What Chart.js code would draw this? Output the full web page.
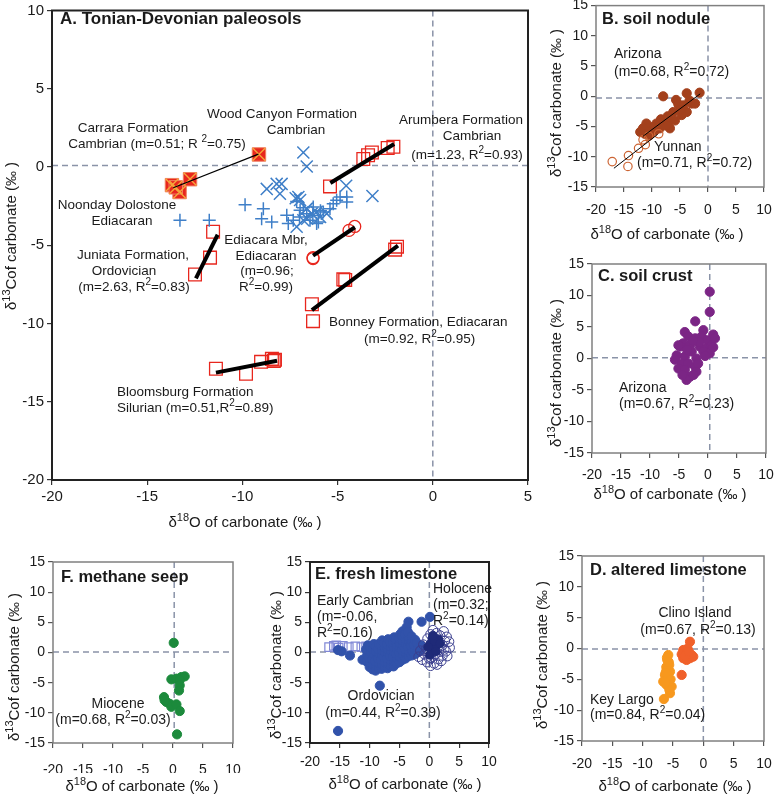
<!DOCTYPE html>
<html>
<head>
<meta charset="utf-8">
<script src="https://cdn.jsdelivr.net/npm/chart.js@4/dist/chart.umd.min.js"></script>
<style>
  html, body { margin: 0; padding: 0; background: #fff; }
  #wrap { position: relative; width: 774px; height: 798px; }
  #wrap canvas { position: absolute; left: 0; top: 0; }
</style>
</head>
<body>
<div id="wrap">
  <canvas id="pA" width="774" height="798"></canvas>
  <canvas id="pB" width="774" height="798"></canvas>
  <canvas id="pC" width="774" height="798"></canvas>
  <canvas id="pD" width="774" height="798"></canvas>
  <canvas id="pE" width="774" height="798"></canvas>
  <canvas id="pF" width="774" height="798"></canvas>
</div>
<script>
// ---- data: [d18O, d13C] ----
// A. Tonian-Devonian paleosols
const carrara = [[-13.7,-1.16],[-13.3,-1.6],[-12.75,-0.78],[-13.5,-1.3],[-9.13,0.8]];
const carraraFit = [[-13.63,-1.33],[-9.16,0.82]];
const woodCanyon = [[-6.8,0.93],[-6.62,0.03],[-8.72,-1.4],[-8.2,-1.08],[-7.94,-1.08],[-8.03,-1.71],[-7.06,-1.92],
  [-4.55,-1.2],[-3.17,-1.85],[-7.15,-3.82],[-6.97,-2.11],[-6.62,-2.66],[-6.36,-2.98],[-6.1,-2.87],[-5.57,-2.98],
  [-6.8,-3.4],[-6.6,-3.3],[-5.92,-3.19],[-7.2,-2.0]];
const noonday = [[-13.28,-3.4],[-11.74,-3.4],[-9.86,-2.42],[-8.9,-2.66],[-8.99,-3.3],[-8.46,-3.51],[-7.67,-3.08],
  [-7.33,-3.4],[-7.59,-3.61],[-6.97,-2.77],[-6.62,-2.98],[-6.28,-2.55],[-6.01,-3.51],[-5.23,-2.35],[-5.05,-2.13],
  [-4.87,-1.92],[-4.52,-1.92],[-4.52,-2.24],[-5.4,-2.66],[-5.75,-2.87],[-6.1,-3.61],[-6.45,-3.4],[-7.15,-2.2],
  [-6.8,-2.6],[-6.3,-3.1],[-5.9,-2.8],[-7.0,-3.2]];
const arumbera = [[-5.4,-1.24],[-3.65,0.51],[-3.4,0.75],[-3.2,0.93],[-2.37,1.21],[-2.07,1.29]];
const arumberaFit = [[-5.38,-1.02],[-2.03,1.47]];
const juniata = [[-11.54,-4.14],[-11.7,-5.79],[-12.49,-6.87]];
const juniataFit = [[-12.44,-7.12],[-11.3,-4.33]];
const ediacara = [[-6.29,-5.79],[-6.29,-5.85],[-4.4,-4.05],[-4.1,-3.8]];
const ediacaraFit = [[-6.29,-5.66],[-4.09,-3.85]];
const bonney = [[-1.88,-5.09],[-1.98,-5.28],[-4.7,-7.18],[-4.6,-7.22],[-6.35,-8.77],[-6.29,-9.85]];
const bonneyFit = [[-6.35,-9.15],[-1.83,-5.03]];
const bloomsburg = [[-11.39,-12.89],[-9.81,-13.21],[-9.02,-12.45],[-8.45,-12.26],[-8.29,-12.32],[-8.35,-12.4]];
const bloomsburgFit = [[-11.39,-13.14],[-8.18,-12.38]];

// B. soil nodule
const nodArizona = [[-1.5,0.6],[-3.8,0.5],[-8.0,0.0],[-5.7,-0.6],[-5.3,-1.3],[-3.3,-0.7],[-2.9,-1.2],[-2.3,-1.2],
  [-4.4,-1.5],[-3.8,-2.6],[-4.7,-3.1],[-6.2,-2.6],[-6.9,-4.0],[-8.0,-4.2],[-9.2,-4.5],[-5.9,-4.0],[-9.9,-5.1],
  [-9.4,-5.6],[-11.0,-4.5],[-11.6,-5.3],[-8.6,-5.3],[-6.8,-5.3],[-10.4,-6.4],[-11.3,-6.2],[-12.1,-5.9],[-7.5,-4.8],
  [-8.4,-3.8],[-10.2,-5.8],[-4.9,-2.2],[-7.2,-3.3]];
const nodYunnan = [[-17.1,-10.8],[-14.2,-9.8],[-14.3,-11.6],[-12.4,-8.6],[-11.2,-8.0],[-11.6,-7.2],[-8.8,-6.2],[-10.6,-6.6]];
const nodArizonaFit = [[-11.6,-6.6],[-1.4,0.4]];
const nodYunnanFit = [[-16.8,-11.9],[-9.0,-6.3]];

// C. soil crust
const crust = [[0.3,10.6],[0.3,7.4],[-2.2,5.9],[-0.8,4.5],[0.9,3.8],[-4.0,4.2],[-3.4,3.5],[-1.1,3.5],[-2.2,3.2],
  [-0.1,2.9],[-4.3,2.4],[-3.1,2.1],[-1.4,1.9],[-0.2,1.6],[-4.8,1.9],[-2.8,1.1],[-0.8,1.1],[-5.4,0.5],[-4.0,0.3],
  [0.3,0.8],[-5.7,-0.2],[-4.5,-0.8],[-3.4,-0.8],[-2.0,0.0],[-2.2,-1.3],[-5.1,-1.6],[-4.0,-1.8],[-1.7,-0.8],
  [-2.0,-2.1],[-3.1,-2.9],[-3.7,-3.4],[-2.5,-2.6],[-4.4,-2.6],[0.6,2.1],[-5.1,2.1],[1.2,3.2],[0.9,1.8],[-1.5,2.6],
  [-3.6,1.4],[-2.6,2.8],[-0.5,0.4]];

// D. altered limestone
const keyLargo = [[-5.78,-1.05],[-5.94,-1.86],[-5.62,-2.67],[-6.05,-3.48],[-5.5,-3.75],[-6.33,-4.29],[-5.78,-4.82],
  [-6.61,-5.37],[-6.05,-5.9],[-5.22,-6.18],[-5.5,-7.25],[-6.5,-8.2],[-6.1,-3.0],[-5.4,-5.0],[-6.0,-1.5],[-5.6,-6.7],
  [-5.9,-4.6],[-6.3,-5.6],[-5.7,-2.2],[-6.2,-3.9]];
const clino = [[-2.2,1.1],[-3.31,-0.24],[-3.57,-0.94],[-2.76,-0.77],[-1.93,-1.05],[-3.31,-1.58],[-2.21,-1.58],
  [-1.66,-1.32],[-2.76,-1.86],[-3.57,-4.29],[-2.6,0.0],[-3.0,-1.2],[-2.4,-0.5]];

// E. fresh limestone
const earlyCambrian = [[-16.8,0.9],[-16.0,1.1],[-15.2,0.8],[-14.5,1.1],[-13.5,0.9],[-12.4,1.0],[-11.4,0.9],
  [-10.6,1.0],[-15.6,1.2]];
const ordovician = [[-15.3,0.4],[-14.7,0.2],[-13.3,-0.5],[-11.2,-1.2],[-8.3,-5.5],[-15.3,-13.0],[-3.5,5.1],
  [-1.3,5.1],[0.1,5.9],[-4.5,3.5],[-3.8,4.2],
  [-10.5,-1.5],[-10.4,-0.4],[-10.6,0.5],[-10.3,1.2],[-10.0,-2.4],[-9.9,-1.7],[-10.1,-0.9],[-9.8,0.1],[-9.9,0.9],
  [-9.5,-2.8],[-9.4,-2.0],[-9.6,-1.1],[-9.3,-0.3],[-9.5,0.6],[-9.3,1.4],[-9.0,-3.0],[-8.9,-2.2],[-9.1,-1.4],
  [-8.8,-0.6],[-9.0,0.2],[-8.9,1.0],[-8.5,-2.6],[-8.4,-1.8],[-8.6,-1.0],[-8.4,-0.2],[-8.6,0.6],[-8.5,1.4],
  [-8.0,-2.7],[-7.9,-2.0],[-8.1,-1.2],[-7.9,-0.4],[-8.0,0.4],[-8.1,1.2],[-7.9,2.0],[-7.5,-2.4],[-7.4,-1.6],
  [-7.6,-0.8],[-7.4,0.0],[-7.5,0.8],[-7.6,1.6],[-7.0,-2.6],[-6.9,-1.8],[-7.1,-1.0],[-6.9,-0.2],[-7.0,0.6],
  [-7.1,1.4],[-6.9,2.2],[-6.5,-2.2],[-6.4,-1.4],[-6.6,-0.6],[-6.4,0.2],[-6.5,1.0],[-6.6,1.8],[-6.0,-2.3],
  [-5.9,-1.5],[-6.1,-0.7],[-5.9,0.1],[-6.0,0.9],[-6.1,1.7],[-5.9,2.5],[-5.5,-1.8],[-5.4,-1.0],[-5.6,-0.2],
  [-5.4,0.6],[-5.5,1.4],[-5.6,2.2],[-5.0,-1.6],[-4.9,-0.8],[-5.1,0.0],[-4.9,0.8],[-5.0,1.6],[-5.1,2.4],[-4.9,3.0],
  [-4.5,-1.2],[-4.4,-0.4],[-4.6,0.4],[-4.4,1.2],[-4.5,2.0],[-4.6,2.8],[-4.0,-1.0],[-3.9,-0.2],[-4.1,0.6],
  [-3.9,1.4],[-4.0,2.2],[-4.1,3.0],[-3.5,-0.6],[-3.4,0.2],[-3.6,1.0],[-3.4,1.8],[-3.5,2.6],[-3.6,3.4],[-3.0,-0.5],
  [-2.9,0.3],[-3.1,1.1],[-2.9,1.9],[-3.0,2.7],[-2.5,-0.3],[-2.4,0.5],[-2.6,1.3],[-2.4,2.1],[-2.0,0.0],[-1.9,0.8],
  [-2.1,1.6],[-1.5,0.4],[-1.4,1.2]];
const holoceneOpen = [[-1.8,-0.7],[-1.2,-1.2],[-0.8,-0.3],[-0.5,0.6],[-1.0,1.3],[-0.3,2.3],[0.2,3.0],[0.6,3.7],
  [1.2,3.2],[1.8,2.8],[2.4,3.5],[2.9,2.6],[3.3,1.8],[3.4,0.8],[2.8,0.2],[2.2,-0.5],[1.5,-1.1],[0.8,-1.8],
  [0.2,-2.2],[-0.4,-1.6],[0.3,-0.9],[1.0,-0.3],[1.6,0.4],[2.2,1.2],[2.6,1.9],[0.5,1.0],[1.1,1.7],[-0.2,0.1],
  [0.9,2.4],[2.0,-1.4],[-1.5,0.3],[3.0,-0.6],[1.3,-2.0],[0.0,-1.0],[2.5,0.5]];
const holoceneFilled = [[0.2,1.5],[0.5,2.3],[0.8,0.6],[1.2,1.2],[0.4,0.2],[1.5,2.2],[-0.2,0.9],[0.9,1.9],
  [1.8,1.5],[0.1,-0.4],[1.1,0.2],[0.6,2.8]];

// F. methane seep
const miocene = [[0.12,1.6],[-0.27,-4.45],[0.57,-4.34],[1.4,-4.07],[1.95,-3.96],[1.12,-4.6],[1.12,-5.45],
  [1.0,-6.3],[-1.5,-7.4],[-1.1,-8.2],[-0.55,-8.5],[-0.27,-9.0],[0.57,-8.6],[1.12,-9.7],[0.67,-13.57],[-1.4,-7.9]];

// ---- drawing helpers ----
const FONT = '"Liberation Sans", Arial, Helvetica, sans-serif';
const toXY = arr => arr.map(p => ({ x: p[0], y: p[1] }));

// text with ^superscript^ parts
function richText(ctx, str, x, y, size, o) {
  const b = o.bold ? 'bold ' : '';
  const parts = str.split('^');
  const sup = Math.round(size * 0.72);
  let w = 0;
  parts.forEach((p, i) => { ctx.font = b + (i % 2 ? sup : size) + 'px ' + FONT; w += ctx.measureText(p).width; });
  let cx = o.align === 'center' ? -w / 2 : (o.align === 'right' ? -w : 0);
  ctx.save();
  ctx.translate(x, y);
  if (o.rotate) ctx.rotate(o.rotate);
  ctx.fillStyle = o.color || '#1a1a1a';
  ctx.textBaseline = 'middle';
  ctx.textAlign = 'left';
  parts.forEach((p, i) => {
    ctx.font = b + (i % 2 ? sup : size) + 'px ' + FONT;
    ctx.fillText(p, cx, i % 2 ? -size * 0.36 : 0);
    cx += ctx.measureText(p).width;
  });
  ctx.restore();
}

const deco = {}; // per canvas: frame, zero lines, texts

const decoPlugin = {
  id: 'deco',
  beforeDatasetsDraw(chart) {
    const d = deco[chart.canvas.id];
    const { ctx, chartArea: a, scales } = chart;
    const px = scales.x.getPixelForValue(d.zeroX);
    const py = scales.y.getPixelForValue(d.zeroY);
    ctx.save();
    ctx.strokeStyle = '#8a93a8';
    ctx.lineWidth = 1.5;
    ctx.setLineDash([6, 4]);
    ctx.beginPath();
    ctx.moveTo(px, a.top); ctx.lineTo(px, a.bottom);
    ctx.moveTo(a.left, py); ctx.lineTo(a.right, py);
    ctx.stroke();
    ctx.restore();
  },
  afterDraw(chart) {
    const d = deco[chart.canvas.id];
    const { ctx, chartArea: a } = chart;
    ctx.save();
    ctx.strokeStyle = d.frameColor;
    ctx.lineWidth = d.frameWidth;
    ctx.strokeRect(a.left, a.top, a.right - a.left, a.bottom - a.top);
    ctx.restore();
    d.texts.forEach(t => richText(ctx, t[0], t[1], t[2], t[4] || 14, { align: t[3], bold: t[5], rotate: t[6] }));
  }
};
Chart.register(decoPlugin);

function axis(min, max, isX, pad, size, tickColor) {
  return {
    type: 'linear', min: min, max: max,
    ticks: { stepSize: 5, padding: pad, color: '#1a1a1a', font: { family: FONT, size: size } },
    grid: { drawOnChartArea: false, drawTicks: true, tickLength: 5, color: tickColor, lineWidth: 1.2 },
    border: { display: false },
    afterFit(s) {
      if (isX) { s.height = 30; s.paddingLeft = 0; s.paddingRight = 0; }
      else { s.width = 40; s.paddingTop = 0; s.paddingBottom = 0; }
    }
  };
}

function panel(id, box, xr, yr, datasets, tickSize, xPad, tickColor) {
  return new Chart(document.getElementById(id), {
    type: 'scatter',
    data: { datasets: datasets },
    options: {
      responsive: false,
      animation: false,
      events: [],
      layout: { padding: { left: box[0] - 40, top: box[2], right: 774 - box[1], bottom: 798 - box[3] - 30 } },
      plugins: { legend: { display: false }, tooltip: { enabled: false } },
      scales: {
        x: axis(xr[0], xr[1], true, xPad, tickSize, tickColor),
        y: axis(yr[0], yr[1], false, 3, tickSize, tickColor)
      }
    }
  });
}

function fit(data, width) {
  return { data: toXY(data), showLine: true, borderColor: '#000', borderWidth: width, pointRadius: 0 };
}
function marks(data, style, r, fill, stroke, bw) {
  return { data: toXY(data), pointStyle: style, pointRadius: r, backgroundColor: fill,
    borderColor: stroke, borderWidth: bw, showLine: false };
}

const RED = '#e8261d', BLUE = '#3f7fc8', CLEAR = 'rgba(255,255,255,0)';
const UP = -Math.PI / 2;
const XT = 'δ^18^O of carbonate (‰ )', YT = 'δ^13^Cof carbonate (‰ )';

// ---- A ----
deco.pA = { zeroX: 0, zeroY: 0.1, frameColor: '#222', frameWidth: 2, texts: [
  ['A. Tonian-Devonian paleosols', 60, 19, 'left', 17, true],
  ['Carrara Formation', 133, 128, 'center', 13.5],
  ['Cambrian (m=0.51; R ^2^=0.75)', 157, 144, 'center', 13.5],
  ['Wood Canyon Formation', 282, 114, 'center', 13.5],
  ['Cambrian', 296, 130, 'center', 13.5],
  ['Arumbera Formation', 461, 120, 'center', 13.5],
  ['Cambrian', 472, 136, 'center', 13.5],
  ['(m=1.23, R^2^=0.93)', 467, 155, 'center', 13.5],
  ['Noonday Dolostone', 117, 205, 'center', 13.5],
  ['Ediacaran', 122, 221, 'center', 13.5],
  ['Juniata Formation,', 133, 255, 'center', 13.5],
  ['Ordovician', 124, 271, 'center', 13.5],
  ['(m=2.63, R^2^=0.83)', 134, 287, 'center', 13.5],
  ['Ediacara Mbr,', 266, 240, 'center', 13.5],
  ['Ediacaran', 266, 256, 'center', 13.5],
  ['(m=0.96;', 267, 271, 'center', 13.5],
  ['R^2^=0.99)', 266, 287, 'center', 13.5],
  ['Bonney Formation, Ediacaran', 329, 322, 'left', 13.5],
  ['(m=0.92, R^2^=0.95)', 364, 339, 'left', 13.5],
  ['Bloomsburg Formation', 117, 392, 'left', 13.5],
  ['Silurian (m=0.51,R^2^=0.89)', 117, 408, 'left', 13.5],
  [XT, 245, 523, 'center', 15],
  [YT, 12, 236, 'center', 15, false, UP]
]};
panel('pA', [52, 528, 7, 480], [-20, 5], [-20, 10], [
  fit(carraraFit, 1.2), fit(arumberaFit, 4), fit(juniataFit, 4), fit(ediacaraFit, 4),
  fit(bonneyFit, 4), fit(bloomsburgFit, 4),
  marks(carrara, 'crossRot', 9, CLEAR, '#f5a63a', 1.4),
  marks(carrara, 'rect', 9.5, RED, '#f08060', 1),
  marks(woodCanyon, 'crossRot', 8.5, CLEAR, BLUE, 1.5),
  marks(noonday, 'cross', 6.5, CLEAR, BLUE, 1.5),
  marks(arumbera, 'rect', 9, CLEAR, RED, 1.3),
  marks(juniata, 'rect', 9, CLEAR, RED, 1.3),
  marks(ediacara, 'circle', 6, CLEAR, RED, 1.3),
  marks(bonney, 'rect', 9, CLEAR, RED, 1.3),
  marks(bloomsburg, 'rect', 9, CLEAR, RED, 1.3)
], 15, 3, '#333');

// ---- B ----
deco.pB = { zeroX: 0, zeroY: -0.3, frameColor: '#808080', frameWidth: 1.5, texts: [
  ['B. soil nodule', 602, 19, 'left', 16.5, true],
  ['Arizona', 614, 54, 'left'],
  ['(m=0.68, R^2^=0.72)', 614, 72, 'left'],
  ['Yunnan', 654, 147, 'left'],
  ['(m=0.71, R^2^=0.72)', 637, 163, 'left'],
  [XT, 667, 235, 'center', 15],
  [YT, 557, 103, 'center', 15, false, UP]
]};
panel('pB', [596, 764, 5, 187], [-20, 10], [-15, 15], [
  fit(nodArizonaFit, 1), fit(nodYunnanFit, 1),
  marks(nodYunnan, 'circle', 4.2, CLEAR, '#cc6433', 1.2),
  marks(nodArizona, 'circle', 4.6, '#a3401c', '#a3401c', 1)
], 14, 10, '#555');

// ---- C ----
deco.pC = { zeroX: 0.3, zeroY: 0.1, frameColor: '#808080', frameWidth: 1.5, texts: [
  ['C. soil crust', 598, 276, 'left', 16.5, true],
  ['Arizona', 619, 388, 'left'],
  ['(m=0.67, R^2^=0.23)', 619, 404, 'left'],
  [XT, 670, 495, 'center', 15],
  [YT, 557, 373, 'center', 15, false, UP]
]};
panel('pC', [592, 766, 264, 453], [-20, 10], [-15, 15], [
  marks(crust, 'circle', 4.6, '#7b2585', '#7b2585', 1)
], 14, 9, '#555');

// ---- D ----
deco.pD = { zeroX: 0, zeroY: -0.1, frameColor: '#808080', frameWidth: 1.5, texts: [
  ['D. altered limestone', 590, 570, 'left', 16.5, true],
  ['Clino Island', 695, 613, 'center'],
  ['(m=0.67, R^2^=0.13)', 698, 630, 'center'],
  ['Key Largo', 590, 700, 'left'],
  ['(m=0.84, R^2^=0.04)', 590, 715, 'left'],
  [XT, 675, 787, 'center', 15],
  [YT, 543, 655, 'center', 15, false, UP]
]};
panel('pD', [582, 764, 556, 741], [-20, 10], [-15, 15], [
  marks(clino, 'circle', 4.6, '#f0602a', '#f0602a', 1),
  marks(keyLargo, 'circle', 4.6, '#f7981e', '#f7981e', 1)
], 14, 10, '#555');

// ---- E ----
deco.pE = { zeroX: 0, zeroY: 0.1, frameColor: '#222', frameWidth: 2, texts: [
  ['E. fresh limestone', 315, 574, 'left', 16.5, true],
  ['Early Cambrian', 317, 601, 'left'],
  ['(m=-0.06,', 317, 617, 'left'],
  ['R^2^=0.16)', 317, 633, 'left'],
  ['Holocene', 433, 589, 'left'],
  ['(m=0.32;', 433, 605, 'left'],
  ['R^2^=0.14)', 433, 621, 'left'],
  ['Ordovician', 381, 696, 'center'],
  ['(m=0.44, R^2^=0.39)', 383, 713, 'center'],
  [XT, 405, 785, 'center', 15],
  [YT, 277, 665, 'center', 15, false, UP]
]};
panel('pE', [310, 489, 562, 743], [-20, 10], [-15, 15], [
  marks(holoceneFilled, 'circle', 4.3, '#1f2a78', '#1f2a78', 1),
  marks(holoceneOpen, 'circle', 4.8, CLEAR, '#3b3f8f', 1),
  marks(ordovician, 'circle', 4.6, '#3152aa', '#3152aa', 1),
  marks(earlyCambrian, 'rect', 6, CLEAR, '#8088d6', 1.2)
], 14, 6, '#333');

// ---- F ----
deco.pF = { zeroX: 0.2, zeroY: 0.1, frameColor: '#808080', frameWidth: 1.5, texts: [
  ['F. methane seep', 61, 577, 'left', 16.5, true],
  ['Miocene', 118, 704, 'center'],
  ['(m=0.68, R^2^=0.03)', 113, 720, 'center'],
  [XT, 142, 787, 'center', 15],
  [YT, 15, 667, 'center', 15, false, UP]
]};
panel('pF', [53, 233, 562, 743], [-20, 10], [-15, 15], [
  marks(miocene, 'circle', 4.6, '#1c8a3c', '#1c8a3c', 1)
], 14, 14, '#555');
</script>
</body>
</html>
